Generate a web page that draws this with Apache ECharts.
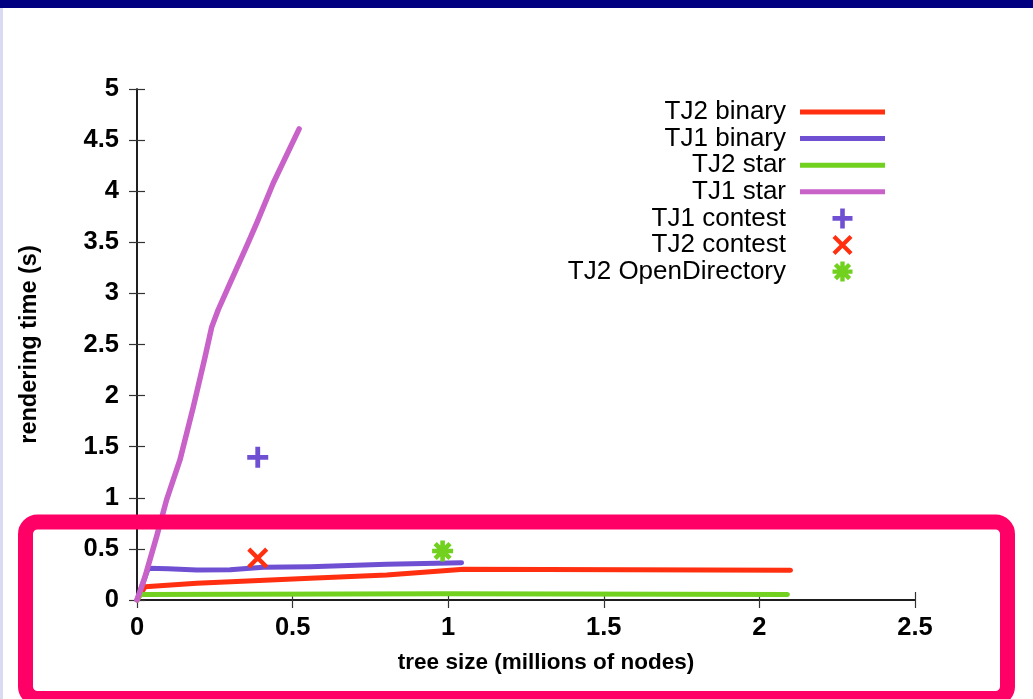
<!DOCTYPE html>
<html>
<head>
<meta charset="utf-8">
<script src="https://cdn.jsdelivr.net/npm/echarts@6/dist/echarts.min.js"></script>
<style>
html,body{margin:0;padding:0;background:#fff;}
#chart{width:1033px;height:699px;}
</style>
</head>
<body>
<div id="chart"></div>
<script>
// ---- data (x: millions of nodes, y: seconds) ----
const seriesNames = ['TJ2 binary', 'TJ1 binary', 'TJ2 star', 'TJ1 star', 'TJ1 contest', 'TJ2 contest', 'TJ2 OpenDirectory'];
const tj2Binary = [[0,0],[0.026,0.13],[0.192,0.163],[0.556,0.212],[0.802,0.245],[1.05,0.30],[2.1,0.29]];
const tj1Binary = [[0,0],[0.036,0.31],[0.1,0.305],[0.192,0.293],[0.299,0.295],[0.406,0.32],[0.556,0.326],[0.802,0.349],[1.043,0.365]];
const tj2Star = [[0,0],[0.012,0.055],[1.0,0.06],[2.09,0.055]];
const tj1Star = [[0,0],[0.026,0.23],[0.063,0.62],[0.095,0.98],[0.138,1.37],[0.181,1.89],[0.218,2.37],[0.240,2.67],[0.261,2.84],[0.299,3.10],[0.352,3.46],[0.385,3.69],[0.438,4.08],[0.521,4.61]];
const tj1Contest = [[0.388,1.396]];
const tj2Contest = [[0.388,0.41]];
const tj2OpenDir = [[0.982,0.479]];
const xTicks = [0, 0.5, 1, 1.5, 2, 2.5];
const yTicks = [0, 0.5, 1, 1.5, 2, 2.5, 3, 3.5, 4, 4.5, 5];

const colors = {red:'#ff2f0f', purple:'#6f50d2', green:'#72d11f', orchid:'#c862c8'};
const plusPath = 'path://M-1.15,-5H1.15V-1.15H5V1.15H1.15V5H-1.15V1.15H-5V-1.15H-1.15Z';
const crossPath = 'path://M-2.9,-4.1L4.1,2.9L2.9,4.1L-4.1,-2.9Z M2.9,-4.1L4.1,-2.9L-2.9,4.1L-4.1,2.9Z';
const starPath = 'path://M-1.1,-5H1.1V5H-1.1Z M-5,-1.1H5V1.1H-5Z M-2.76,-4.31L4.31,2.76L2.76,4.31L-4.31,-2.76Z M2.76,-4.31L4.31,-2.76L-2.76,4.31L-4.31,2.76Z';
const lineIcon = 'path://M0,0H17V1H0Z';

const font = 'Liberation Sans, Arial, sans-serif';
const axisLine = {show:true, lineStyle:{color:'#111', width:1.5}};
const tickStyle = {show:true, inside:true, length:8, lineStyle:{color:'#333', width:1.2}};

function lineSeries(name, data, color, width) {
  return {
    name, type:'line', data, symbol:'none', showSymbol:false,
    lineStyle:{color, width, cap:'round', join:'round'}, itemStyle:{color},
    emphasis:{disabled:true}, animation:false
  };
}
function scatterSeries(name, data, color, symbol, size) {
  return {
    name, type:'scatter', data, symbol, symbolSize:size, symbolKeepAspect:true,
    itemStyle:{color, opacity:1}, emphasis:{disabled:true}, animation:false, z:5
  };
}

const chart = echarts.init(document.getElementById('chart'), null, {renderer:'canvas'});
chart.setOption({
  backgroundColor:'#ffffff',
  animation:false,
  grid:{left:137, top:89, right:118, bottom:99, containLabel:false},
  xAxis:[{
    type:'value', min:0, max:2.5, interval:0.5,
    axisLine, axisTick:tickStyle, splitLine:{show:false},
    axisLabel:{fontFamily:font, fontSize:25.5, fontWeight:'bold', color:'#000', margin:15,
      formatter:v => xTicks.indexOf(v) >= 0 ? String(v) : ''},
    name:'tree size (millions of nodes)', nameLocation:'middle', nameGap:51,
    nameTextStyle:{fontFamily:font, fontSize:22.5, fontWeight:'bold', color:'#000', verticalAlign:'top', padding:[0,0,0,40]}
  },{
    type:'value', min:0, max:2.5, interval:0.5, position:'top',
    axisLine, axisTick:tickStyle, axisLabel:{show:false}, splitLine:{show:false}
  }],
  yAxis:[{
    type:'value', min:0, max:5, interval:0.5,
    axisLine, axisTick:tickStyle, splitLine:{show:false},
    axisLabel:{fontFamily:font, fontSize:25.5, fontWeight:'bold', color:'#000', margin:18,
      formatter:v => yTicks.indexOf(v) >= 0 ? String(v) : ''},
    name:'rendering time (s)', nameLocation:'middle', nameGap:95, nameRotate:90,
    nameTextStyle:{fontFamily:font, fontSize:23.5, fontWeight:'bold', color:'#000'}
  },{
    type:'value', min:0, max:5, interval:0.5, position:'right',
    axisLine, axisTick:tickStyle, axisLabel:{show:false}, splitLine:{show:false}
  }],
  legend:{
    orient:'vertical', right:148, top:99, align:'right', padding:0,
    itemWidth:85, itemHeight:20, itemGap:0.6,
    selectedMode:false,
    textStyle:{fontFamily:font, fontSize:26, color:'#000', padding:[0,9,0,0]},
    data:[
      {name:seriesNames[0], icon:lineIcon},
      {name:seriesNames[1], icon:lineIcon},
      {name:seriesNames[2], icon:lineIcon},
      {name:seriesNames[3], icon:lineIcon},
      {name:seriesNames[4]},
      {name:seriesNames[5]},
      {name:seriesNames[6]}
    ]
  },
  series:[
    lineSeries(seriesNames[0], tj2Binary, colors.red, 5),
    lineSeries(seriesNames[1], tj1Binary, colors.purple, 5),
    lineSeries(seriesNames[2], tj2Star, colors.green, 5),
    lineSeries(seriesNames[3], tj1Star, colors.orchid, 5.5),
    scatterSeries(seriesNames[4], tj1Contest, colors.purple, plusPath, 21),
    scatterSeries(seriesNames[5], tj2Contest, colors.red, crossPath, 21),
    scatterSeries(seriesNames[6], tj2OpenDir, colors.green, starPath, 21)
  ],
  graphic:[
    {type:'rect', left:0, top:0, shape:{width:1033, height:8}, style:{fill:'#000080'}, z:100, silent:true},
    {type:'rect', left:0, top:8, shape:{width:3, height:691}, style:{fill:'#dadaf2'}, z:100, silent:true},
    {type:'rect', x:25.5, y:522, shape:{x:0, y:0, width:982, height:176.5, r:12},
      style:{fill:null, stroke:'#ff0066', lineWidth:15}, z:100, silent:true}
  ]
});
</script>
</body>
</html>
